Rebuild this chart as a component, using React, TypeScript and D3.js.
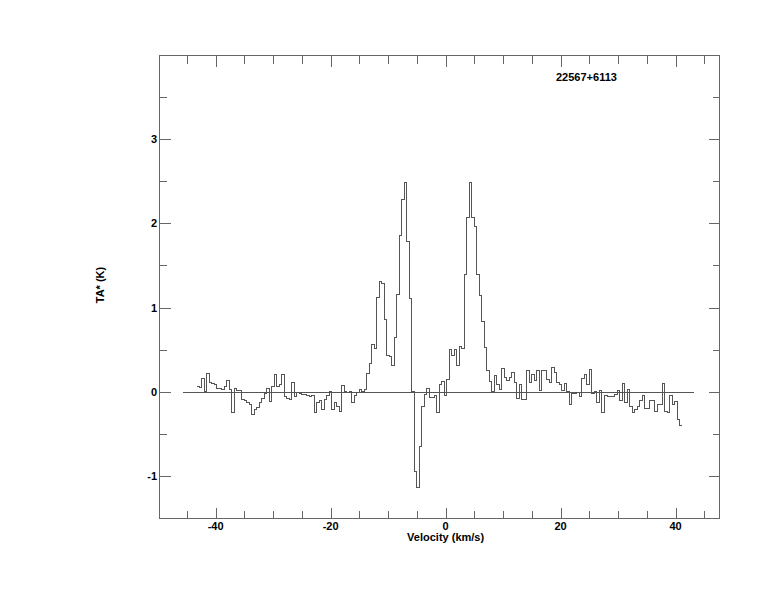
import React from "react";
import * as d3 from "d3";

const W = 774;
const H = 612;

const sourceName = "22567+6113";
const xLabel = "Velocity (km/s)";
const yLabel = "TA* (K)";

const xTickValues = [-40, -20, 0, 20, 40];
const yTickValues = [-1, 0, 1, 2, 3];

// spectral channel axis: first channel edge and channel width (km/s)
const velocityStart = -43.27;
const channelWidth = 0.435;
// extent of the drawn zero baseline (km/s)
const baselineRange = [-45.6, 43.2];

// antenna temperature TA* (K) per channel
const antennaTemp = [
  // -43.3 .. -21.5 km/s
  0.06, 0.05, 0.16, 0.0, 0.22, 0.11, 0.1, 0.08, 0.04, 0.04,
  0.03, 0.06, 0.13, 0.03, -0.25, 0.04, 0.02, 0.02, -0.09, -0.11,
  -0.13, -0.15, -0.27, -0.21, -0.19, -0.13, -0.08, -0.02, 0.04, -0.12,
  0.06, 0.2, 0.06, 0.08, 0.21, -0.06, -0.08, -0.09, 0.11, -0.06,
  -0.01, -0.02, -0.03, -0.03, -0.05, -0.06, -0.05, -0.25, -0.13, -0.1,
  // -21.5 .. 0.2 km/s
  -0.21, -0.09, -0.05, 0.0, -0.21, -0.13, -0.17, -0.23, 0.07, 0.0,
  -0.01, 0.0, -0.13, -0.05, -0.01, 0.03, 0.0, 0.03, 0.22, 0.34,
  0.56, 0.51, 1.12, 1.31, 1.28, 0.86, 0.43, 0.42, 0.31, 0.64,
  1.15, 1.85, 2.28, 2.49, 1.78, 1.11, 0.0, -0.95, -1.14, -0.65,
  -0.17, -0.03, 0.04, -0.07, -0.07, -0.05, -0.25, 0.09, 0.12, -0.05,
  // 0.2 .. 22.0 km/s
  0.15, 0.5, 0.43, 0.5, 0.31, 0.54, 0.51, 1.39, 2.07, 2.48,
  2.07, 1.96, 1.39, 1.14, 0.84, 0.52, 0.25, 0.12, 0.0, 0.19,
  0.09, 0.03, 0.27, 0.17, 0.13, 0.17, 0.23, 0.11, -0.08, 0.09,
  -0.09, -0.09, 0.25, 0.11, 0.21, 0.13, 0.25, 0.01, 0.25, 0.25,
  0.15, 0.11, 0.29, 0.23, 0.11, 0.09, 0.02, 0.1, 0.0, -0.15,
  // 22.0 .. 41.1 km/s
  -0.02, -0.02, -0.01, -0.06, 0.16, 0.21, 0.08, 0.26, -0.02, 0.0,
  -0.13, 0.02, -0.25, -0.05, -0.06, -0.06, -0.06, -0.03, 0.02, -0.11,
  0.1, -0.13, 0.03, -0.18, -0.25, -0.21, -0.18, -0.1, -0.04, -0.2,
  -0.2, -0.11, -0.11, -0.24, -0.15, -0.15, 0.1, -0.24, -0.25, -0.04,
  -0.15, -0.12, -0.33, -0.4,
];

const FONT = "'Liberation Sans', Arial, Helvetica, sans-serif";
const FRAME = "#666";
const LINE = "#555";

export default function App() {
  const left = 159;
  const right = 719;
  const top = 55;
  const bottom = 518;

  const x = d3.scaleLinear().domain([-49.85, 47.55]).range([left, right]);
  const y = d3.scaleLinear().domain([-1.5, 4]).range([bottom, top]);

  const snap = (v: number) => Math.round(v) + 0.5;

  const pts: [number, number][] = antennaTemp.map((v, i) => [
    velocityStart + i * channelWidth,
    v,
  ]);
  pts.push([
    velocityStart + antennaTemp.length * channelWidth,
    antennaTemp[antennaTemp.length - 1],
  ]);
  const line = d3
    .line<[number, number]>()
    .x((d) => x(d[0]))
    .y((d) => y(d[1]))
    .curve(d3.curveStepAfter);

  const xMinor = d3.range(-45, 46, 5).filter((t) => !xTickValues.includes(t));
  const yMinor = d3.range(-0.5, 3.6, 1);

  const majorLen = 11;
  const minorLen = 8;
  const yMajorLen = 11;
  const yMinorLen = 7;

  const fL = snap(left);
  const fR = snap(right);
  const fT = snap(top);
  const fB = snap(bottom);

  return (
    <svg
      width={W}
      height={H}
      style={{ position: "absolute", left: 0, top: 0, background: "#fff" }}
    >
      <rect x={0} y={0} width={W} height={H} fill="#fff" />
      <g stroke={FRAME} strokeWidth={1} shapeRendering="crispEdges" fill="none">
        <rect x={fL} y={fT} width={fR - fL} height={fB - fT} />
        {xTickValues.map((t) => (
          <g key={"xM" + t}>
            <line x1={snap(x(t))} x2={snap(x(t))} y1={fB} y2={fB - majorLen} />
            <line x1={snap(x(t))} x2={snap(x(t))} y1={fT} y2={fT + majorLen} />
          </g>
        ))}
        {xMinor.map((t) => (
          <g key={"xm" + t}>
            <line x1={snap(x(t))} x2={snap(x(t))} y1={fB} y2={fB - minorLen} />
            <line x1={snap(x(t))} x2={snap(x(t))} y1={fT} y2={fT + minorLen} />
          </g>
        ))}
        {yTickValues.map((t) => (
          <g key={"yM" + t}>
            <line x1={fL} x2={fL + yMajorLen} y1={snap(y(t))} y2={snap(y(t))} />
            <line x1={fR} x2={fR - yMajorLen} y1={snap(y(t))} y2={snap(y(t))} />
          </g>
        ))}
        {yMinor.map((t) => (
          <g key={"ym" + t}>
            <line x1={fL} x2={fL + yMinorLen} y1={snap(y(t))} y2={snap(y(t))} />
            <line x1={fR} x2={fR - yMinorLen} y1={snap(y(t))} y2={snap(y(t))} />
          </g>
        ))}
      </g>
      <line
        x1={x(baselineRange[0])}
        x2={x(baselineRange[1])}
        y1={snap(y(0))}
        y2={snap(y(0))}
        stroke={LINE}
        strokeWidth={1}
        shapeRendering="crispEdges"
      />
      <path
        d={line(pts) || ""}
        fill="none"
        stroke={LINE}
        strokeWidth={1}
        shapeRendering="crispEdges"
      />
      <g fontFamily={FONT} fontWeight="bold" fontSize={11} fill="#000">
        {xTickValues.map((t) => (
          <text key={"xl" + t} x={x(t)} y={530} textAnchor="middle">
            {t}
          </text>
        ))}
        {yTickValues.map((t) => (
          <text key={"yl" + t} x={157} y={y(t) + 4} textAnchor="end">
            {t}
          </text>
        ))}
        <text x={x(0)} y={541} textAnchor="middle">
          {xLabel}
        </text>
        <text x={556} y={81}>
          {sourceName}
        </text>
        <text
          transform={`translate(104,${285}) rotate(-90)`}
          textAnchor="middle"
        >
          {yLabel}
        </text>
      </g>
    </svg>
  );
}
